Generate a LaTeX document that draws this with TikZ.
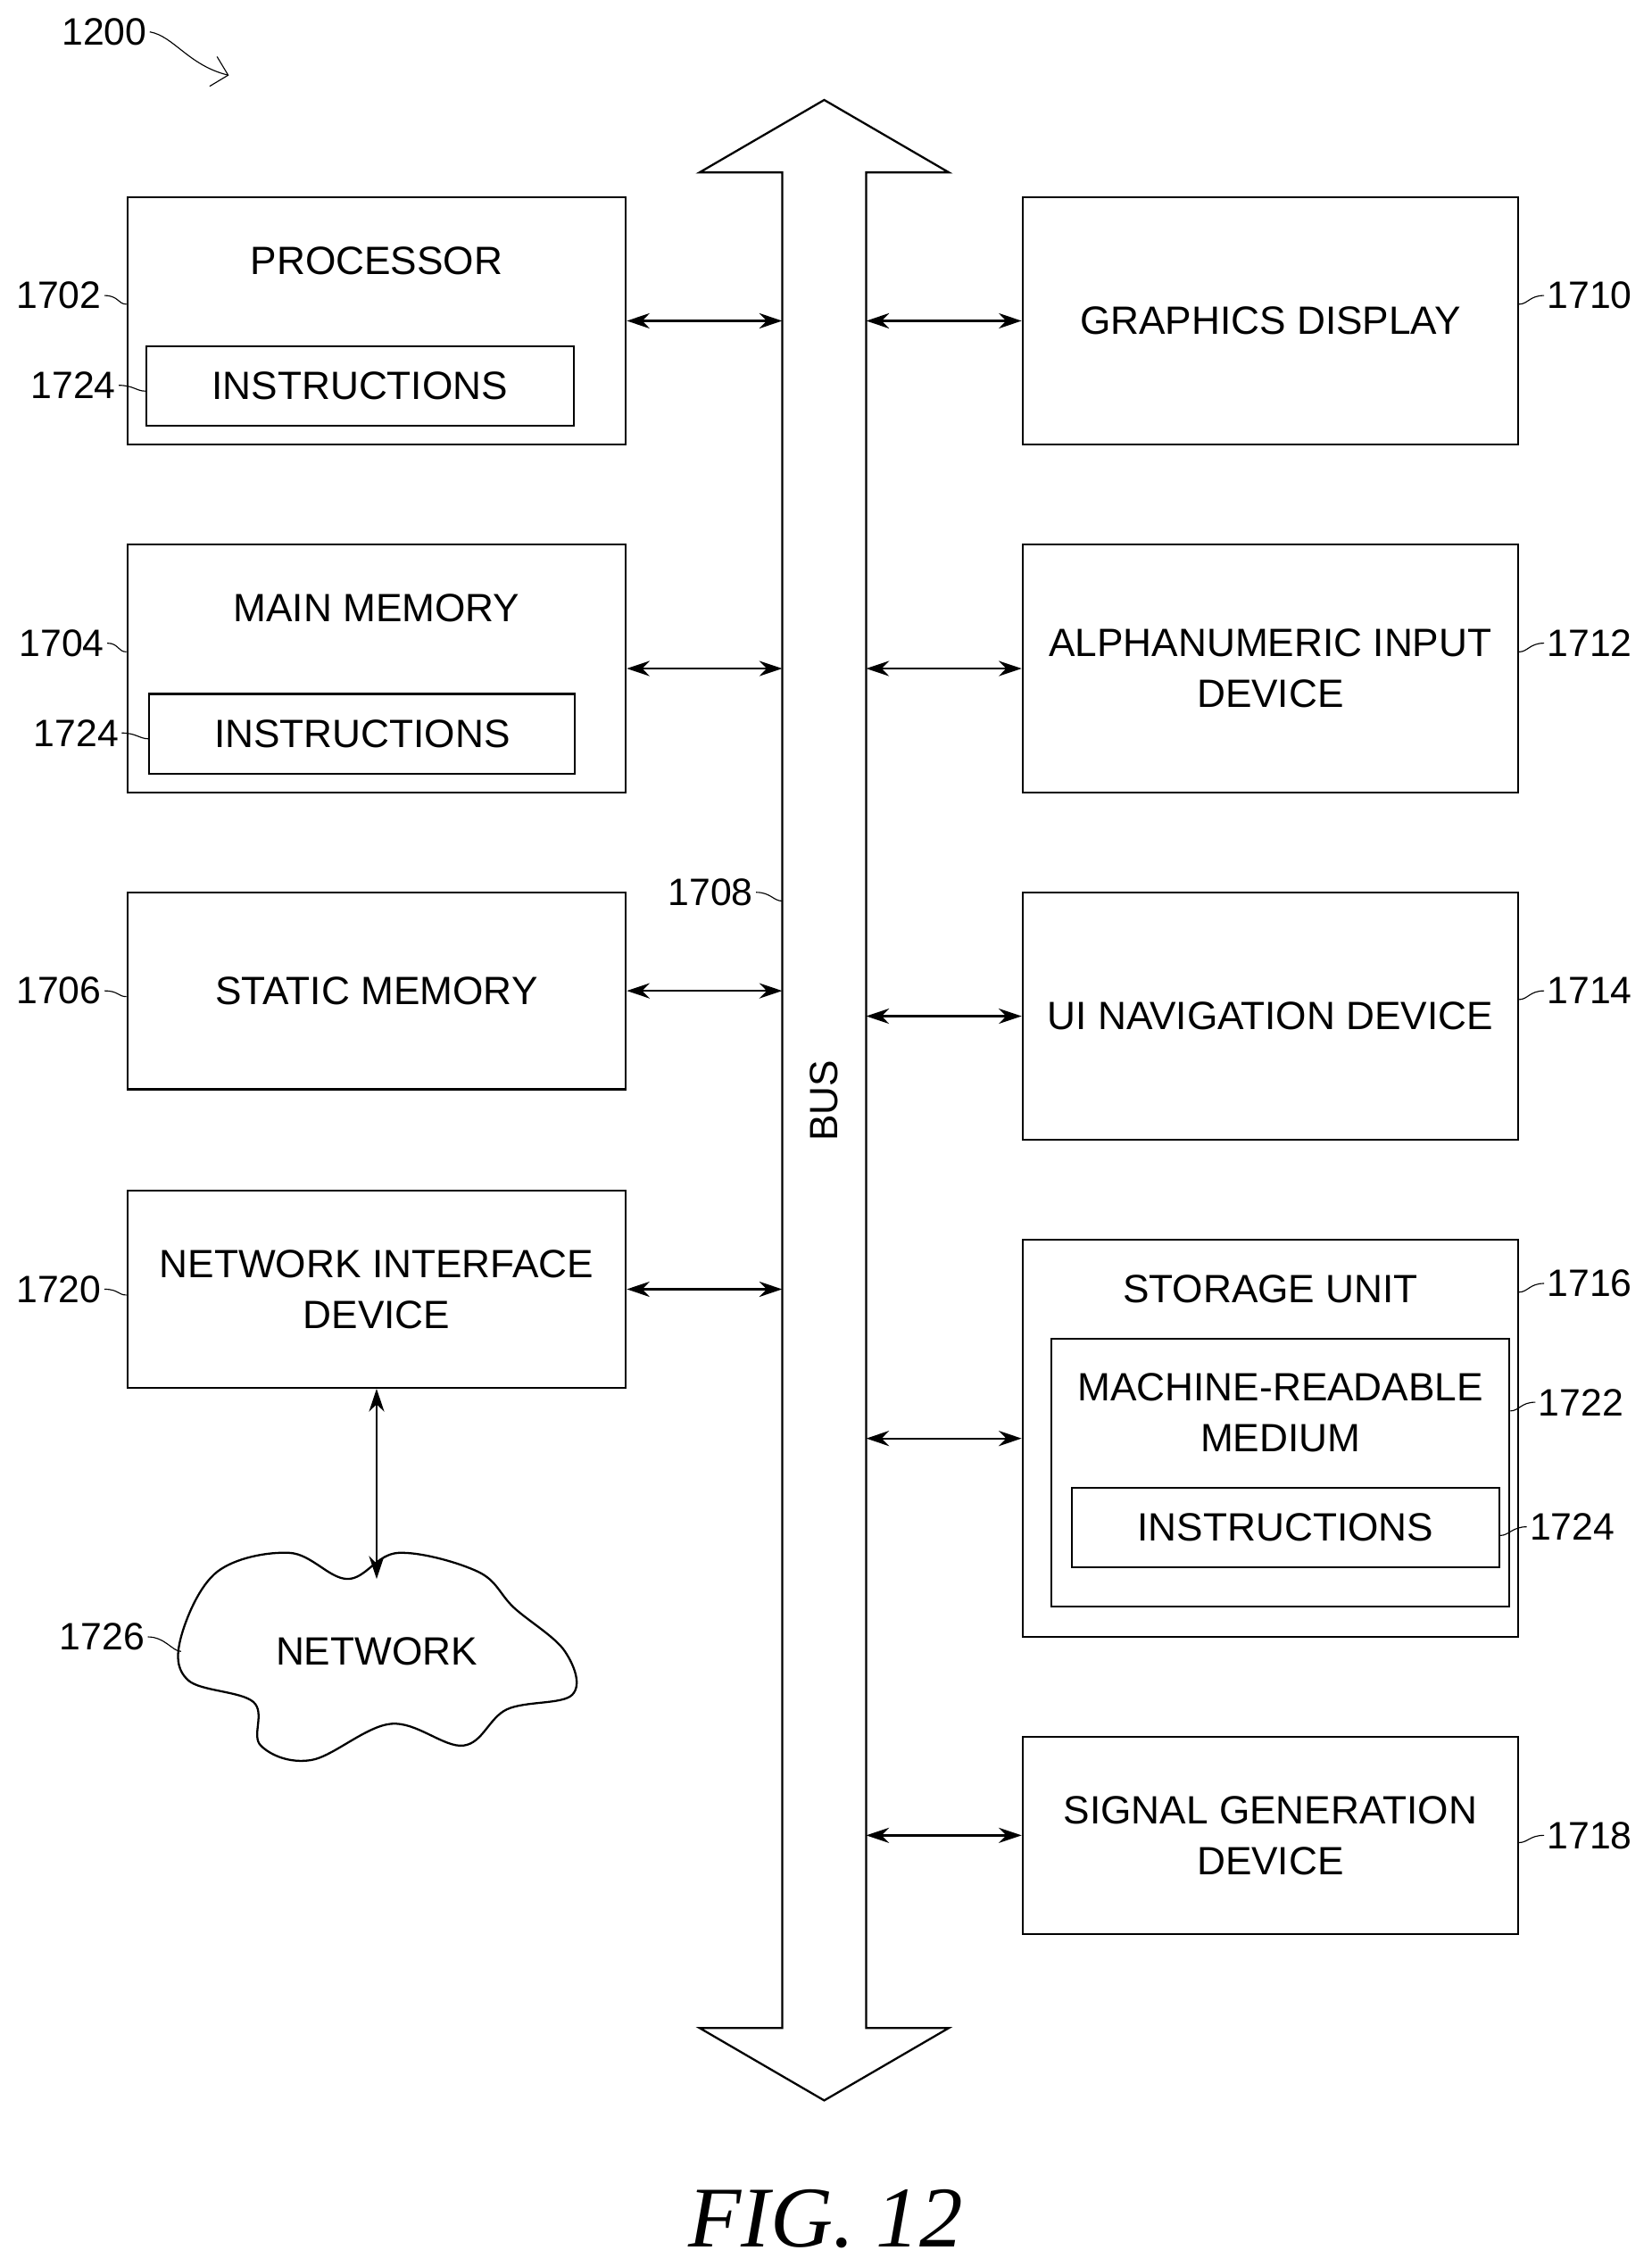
\documentclass[tikz,border=0pt]{standalone}
\usepackage{fontspec}
\setmainfont{Liberation Sans}
\newfontfamily\capfont{Liberation Serif}
\usetikzlibrary{arrows.meta}
\begin{document}
\begin{tikzpicture}[x=0.02cm,y=-0.02cm,
    box/.style ={rectangle, draw=black, thick, fill=white, inner sep=0pt},
    txt/.style ={font=\fontsize{15.5}{20}\selectfont, align=center, inner sep=0pt},
    num/.style ={font=\fontsize{15}{18}\selectfont, inner sep=1pt},
    lead/.style ={draw, thin},
    link/.style ={draw, thick, {Stealth[length=9pt,width=6pt]}-{Stealth[length=9pt,width=6pt]}}]
  \useasboundingbox (0,0) rectangle (1140,1565);
  % bus
  \draw[thick] (540,119) -- (483,119) -- (569,69) -- (655,119) -- (598,119)
    -- (598,1400) -- (655,1400) -- (569,1450) -- (483,1400) -- (540,1400) -- cycle;
  \node[txt, rotate=90] (bus_label) at (569,760) {BUS};
  \coordinate (bus_l) at (540,760);
  \coordinate (bus_r) at (598,760);
  % left column
  \node[box, minimum width=344*0.02cm, minimum height=171*0.02cm] (processor) at (260,221.5) {};
  \node[txt] at (260,180) {PROCESSOR};
  \node[box, minimum width=295*0.02cm, minimum height=55*0.02cm, txt] (instr_proc) at (248.5,266.5) {INSTRUCTIONS};
  \node[box, minimum width=344*0.02cm, minimum height=171*0.02cm] (main_mem) at (260,461.5) {};
  \node[txt] at (260,420) {MAIN MEMORY};
  \node[box, minimum width=294*0.02cm, minimum height=55*0.02cm, txt] (instr_mem) at (250,506.5) {INSTRUCTIONS};
  \node[box, minimum width=344*0.02cm, minimum height=136*0.02cm, txt] (static_mem) at (260,684) {STATIC MEMORY};
  \node[box, minimum width=344*0.02cm, minimum height=136*0.02cm, txt] (net_if) at (260,890) {NETWORK INTERFACE\\DEVICE};
  % network cloud
  \draw[thick] plot[smooth cycle, tension=0.6] coordinates {(125,1130) (150,1085) (200,1072) (240,1090) (275,1072)
    (330,1085) (355,1110) (390,1140) (395,1170) (350,1180) (320,1205) (270,1190) (215,1215) (180,1205) (175,1175) (130,1160)};
  \node[txt] (network) at (260,1140) {NETWORK};
  \coordinate (network_top) at (260,1090);
  % right column
  \node[box, minimum width=342*0.02cm, minimum height=171*0.02cm, txt] (graphics) at (877,221.5) {GRAPHICS DISPLAY};
  \node[box, minimum width=342*0.02cm, minimum height=171*0.02cm, txt] (alpha_in) at (877,461.5) {ALPHANUMERIC INPUT\\DEVICE};
  \node[box, minimum width=342*0.02cm, minimum height=171*0.02cm, txt] (ui_nav) at (877,701.5) {UI NAVIGATION DEVICE};
  \node[box, minimum width=342*0.02cm, minimum height=274*0.02cm] (storage) at (877,993) {};
  \node[txt] at (877,890) {STORAGE UNIT};
  \node[box, minimum width=316*0.02cm, minimum height=185*0.02cm] (medium) at (884,1016.5) {};
  \node[txt] at (884,975) {MACHINE-READABLE\\MEDIUM};
  \node[box, minimum width=295*0.02cm, minimum height=55*0.02cm, txt] (instr_med) at (887.5,1054.5) {INSTRUCTIONS};
  \node[box, minimum width=342*0.02cm, minimum height=136*0.02cm, txt] (signal_gen) at (877,1267) {SIGNAL GENERATION\\DEVICE};
  % connecting nodes with arrows
  \path[link] (processor.east) -- (processor.east -| bus_l);
  \path[link] (main_mem.east) -- (main_mem.east -| bus_l);
  \path[link] (static_mem.east) -- (static_mem.east -| bus_l);
  \path[link] (net_if.east) -- (net_if.east -| bus_l);
  \path[link] (graphics.west) -- (graphics.west -| bus_r);
  \path[link] (alpha_in.west) -- (alpha_in.west -| bus_r);
  \path[link] (ui_nav.west) -- (ui_nav.west -| bus_r);
  \path[link] (storage.west) -- (storage.west -| bus_r);
  \path[link] (signal_gen.west) -- (signal_gen.west -| bus_r);
  \path[link] (net_if.south) -- (network_top);
  % reference numerals
  \node[num] (n1200) at (72,22) {1200};
  \draw[lead, -{Straight Barb[length=6pt]}] (n1200.east) .. controls (120,25) and (130,45) .. (158,52);
  \node[num, anchor=east] (n1702) at (72,204) {1702};
  \node[num, anchor=east] (n1724a) at (82,266) {1724};
  \node[num, anchor=east] (n1704) at (74,444) {1704};
  \node[num, anchor=east] (n1724b) at (84,506) {1724};
  \node[num, anchor=east] (n1708) at (522,616) {1708};
  \node[num, anchor=east] (n1706) at (72,684) {1706};
  \node[num, anchor=east] (n1720) at (72,890) {1720};
  \node[num, anchor=east] (n1726) at (102,1130) {1726};
  \node[num, anchor=west] (n1710) at (1066,204) {1710};
  \node[num, anchor=west] (n1712) at (1066,444) {1712};
  \node[num, anchor=west] (n1714) at (1066,684) {1714};
  \node[num, anchor=west] (n1716) at (1066,886) {1716};
  \node[num, anchor=west] (n1722) at (1060,968) {1722};
  \node[num, anchor=west] (n1724c) at (1054,1054) {1724};
  \node[num, anchor=west] (n1718) at (1066,1267) {1718};
  \draw[lead] (n1702.east) .. controls +(10,0) and +(-6,0) .. (processor.west |- 0,210);
  \draw[lead] (n1724a.east) .. controls +(10,0) and +(-6,0) .. (instr_proc.west |- 0,270);
  \draw[lead] (n1704.east) .. controls +(8,0) and +(-6,0) .. (main_mem.west |- 0,450);
  \draw[lead] (n1724b.east) .. controls +(10,0) and +(-6,0) .. (instr_mem.west |- 0,510);
  \draw[lead] (n1708.east) .. controls +(10,0) and +(-6,0) .. (bus_l |- 0,622);
  \draw[lead] (n1706.east) .. controls +(10,0) and +(-6,0) .. (static_mem.west |- 0,688);
  \draw[lead] (n1720.east) .. controls +(10,0) and +(-6,0) .. (net_if.west |- 0,894);
  \draw[lead] (n1726.east) .. controls +(12,0) and +(-6,0) .. (125,1140);
  \draw[lead] (n1710.west) .. controls +(-10,0) and +(6,0) .. (graphics.east |- 0,210);
  \draw[lead] (n1712.west) .. controls +(-10,0) and +(6,0) .. (alpha_in.east |- 0,450);
  \draw[lead] (n1714.west) .. controls +(-10,0) and +(6,0) .. (ui_nav.east |- 0,690);
  \draw[lead] (n1716.west) .. controls +(-10,0) and +(6,0) .. (storage.east |- 0,892);
  \draw[lead] (n1722.west) .. controls +(-10,0) and +(6,0) .. (medium.east |- 0,974);
  \draw[lead] (n1724c.west) .. controls +(-10,0) and +(6,0) .. (instr_med.east |- 0,1060);
  \draw[lead] (n1718.west) .. controls +(-10,0) and +(6,0) .. (signal_gen.east |- 0,1272);
  % caption
  \node[font=\capfont\itshape\fontsize{34}{40}\selectfont] (caption) at (570,1532) {FIG. 12};
\end{tikzpicture}
\end{document}
